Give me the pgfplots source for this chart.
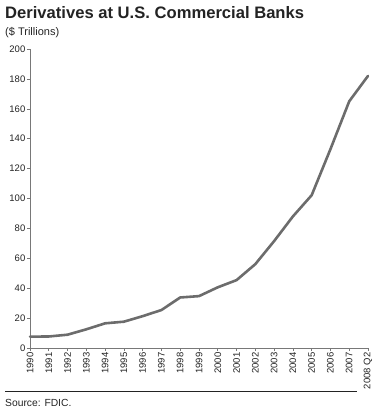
\documentclass[border=0pt]{standalone}
\usepackage{pgfplots}
\pgfplotsset{compat=1.18}
\usepackage{fontspec}
\setmainfont{Liberation Sans}
\definecolor{linegray}{RGB}{108,108,108}
\definecolor{axgray}{RGB}{120,120,120}
\definecolor{txt}{RGB}{35,35,35}
\begin{document}
\begin{tikzpicture}
\path[use as bounding box] (0pt,0pt) rectangle (381pt,416pt);
\node[anchor=base west, inner sep=0, text=txt, font=\fontsize{16.6}{18}\selectfont\bfseries] at (5pt,397pt) {Derivatives at U.S. Commercial Banks};
\node[anchor=base west, inner sep=0, text=txt, font=\fontsize{11}{13}\selectfont] at (5pt,380.5pt) {(\$ Trillions)};
\begin{axis}[
  at={(30pt,68pt)}, anchor=south west,
  scale only axis, width=338pt, height=299pt,
  xmin=0, xmax=18, ymin=0, ymax=200,
  axis lines*=left,
  axis line style={axgray, line width=0.6pt},
  xtick={0,...,18},
  xticklabels={1990,1991,1992,1993,1994,1995,1996,1997,1998,1999,2000,2001,2002,2003,2004,2005,2006,2007,2008 Q2},
  ytick={0,20,...,200},
  tick align=outside,
  major tick length=3pt,
  tick style={axgray, line width=0.6pt},
  tick label style={font=\fontsize{9.5}{11}\selectfont, text=txt},
  x tick label style={rotate=90, anchor=east, inner sep=1.5pt},
  y tick label style={inner sep=1.5pt},
  /pgf/number format/assume math mode=true,
  clip=false,
]
\addplot[linegray, line width=2.6pt, line join=round, line cap=round] coordinates {
(0,7.6) (1,7.7) (2,8.9) (3,12.5) (4,16.5) (5,17.6) (6,21.3) (7,25.4) (8,33.8) (9,34.7)
(10,40.6) (11,45.4) (12,56.1) (13,71.5) (14,88.0) (15,102.2) (16,133.0) (17,165.0) (18,182.0)
};
\end{axis}
\draw[txt, line width=0.6pt] (5pt,25pt) -- (357pt,25pt);
\node[anchor=base west, inner sep=0, text=txt, font=\fontsize{10.3}{12}\selectfont] at (5pt,9.5pt) {Source: FDIC.};
\end{tikzpicture}
\end{document}
